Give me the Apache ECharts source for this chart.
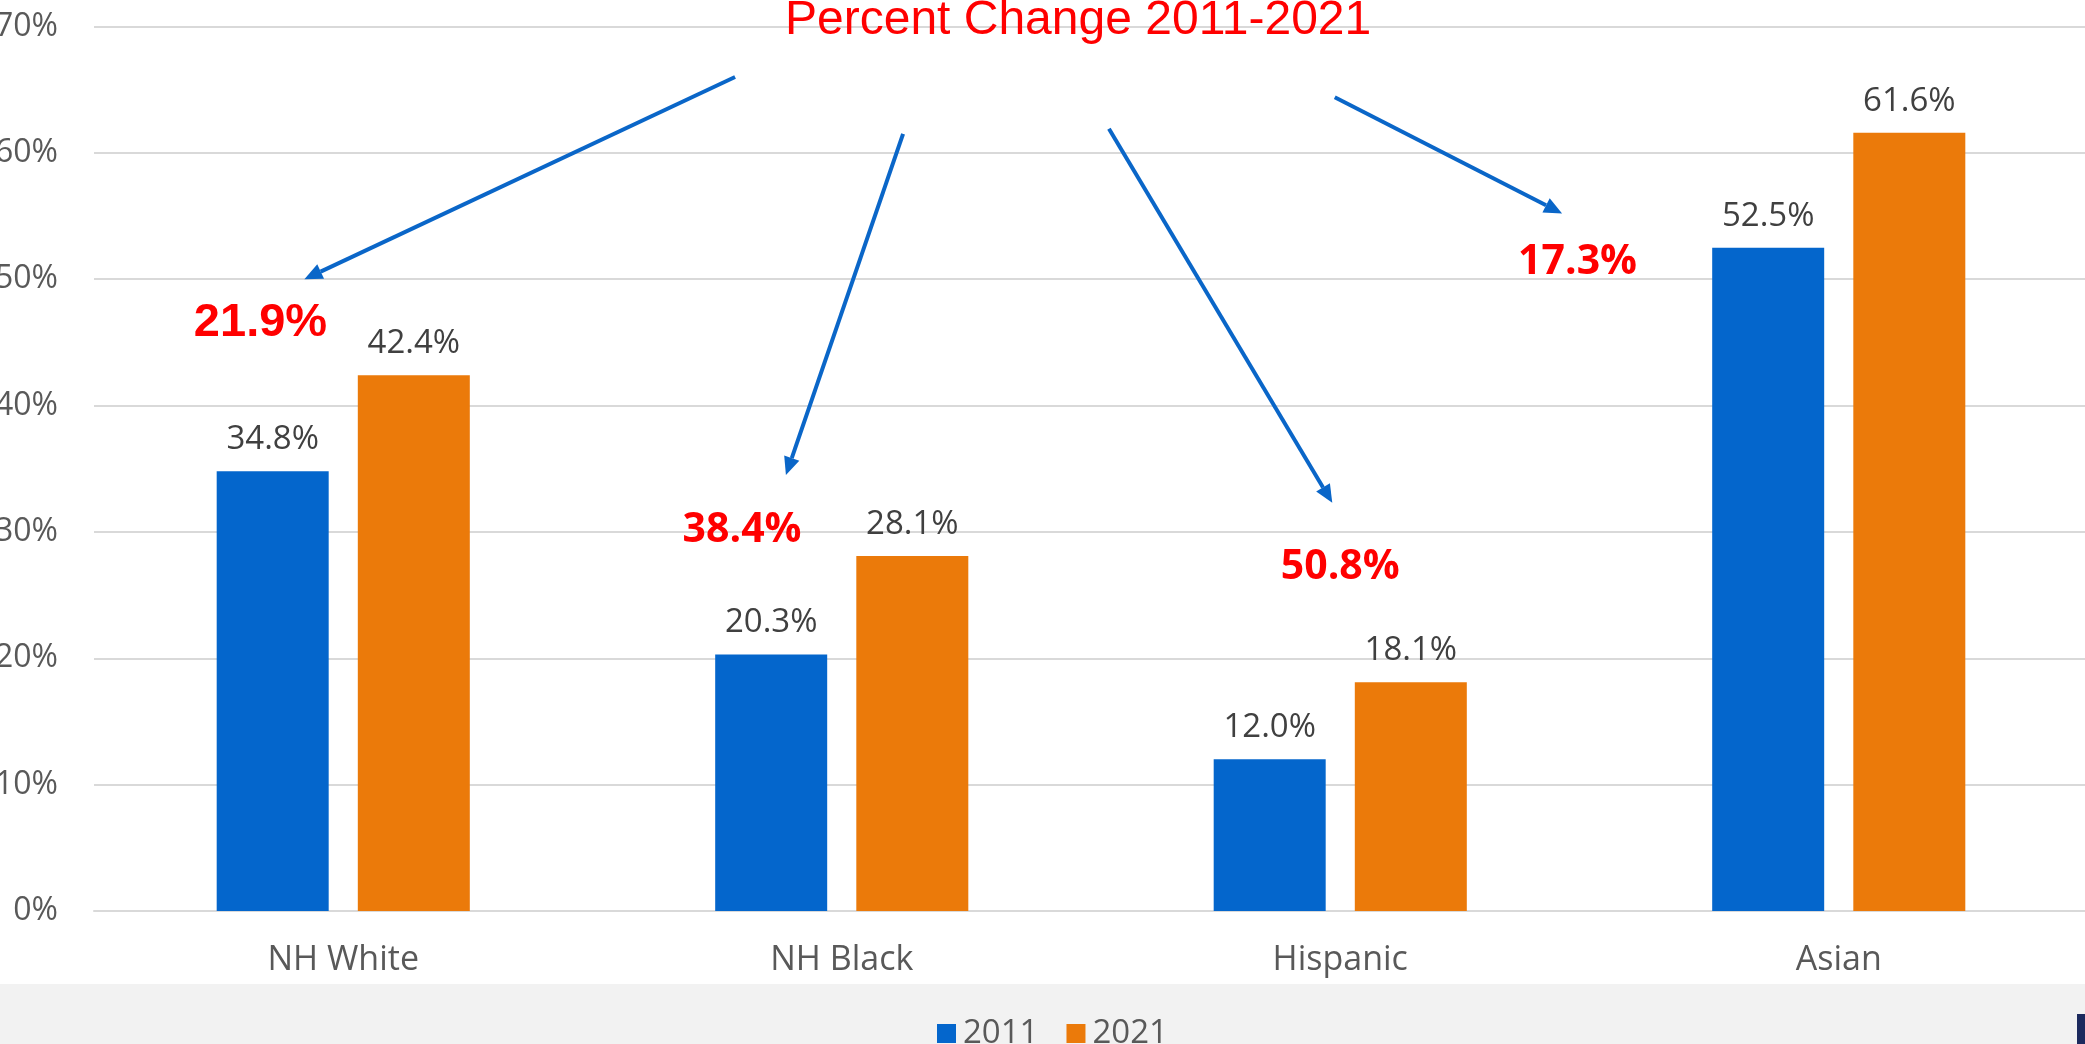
<!DOCTYPE html>
<html>
<head>
<meta charset="utf-8">
<script src="https://cdn.jsdelivr.net/npm/echarts@6/dist/echarts.min.js"></script>
<style>
html, body { margin: 0; padding: 0; background: #fff; }
#chart { width: 2085px; height: 1044px; }
</style>
</head>
<body>
<div id="chart"></div>
<script>
// data
var categories = ['NH White', 'NH Black', 'Hispanic', 'Asian']
var values2011 = [34.8, 20.3, 12.0, 52.5]
var values2021 = [42.4, 28.1, 18.1, 61.6]
var changeLabels = ['21.9%', '38.4%', '50.8%', '17.3%']
var yTicks = { min: 0, max: 70, interval: 10 }

// annotation anchors in axis units: [category position, value]
var changeAnchors = [[-0.166, 46.5], [0.80, 30.1], [2.0, 27.2], [2.476, 51.3]]
// the first label was typed in a different font in the original
var changeFonts = [
  'bold 47px "Liberation Sans"',
  'bold 41px "Open Sans"',
  'bold 41px "Open Sans"',
  'bold 41px "Open Sans"'
]
// arrows: [from cat, from value, to cat, to value]
var arrows = [
  [0.786, 66.0, -0.078, 50.0],
  [1.123, 61.5, 0.888, 34.5],
  [1.536, 61.9, 1.984, 32.3],
  [1.989, 64.4, 2.445, 55.2]
]

var blue = '#0466CC'
var orange = '#EB7A0A'
var arrowBlue = '#0A66C8'

var chart = echarts.init(document.getElementById('chart'))

var option = {
  animation: false,
  title: {
    text: 'Percent Change 2011-2021',
    left: 785,
    top: -3,
    padding: 0,
    textStyle: {
      color: '#FF0000',
      fontFamily: 'Liberation Sans',
      fontWeight: 'normal',
      fontSize: 48
    }
  },
  grid: {
    left: 94,
    right: -3,
    top: 26.5,
    bottom: 133,
    containLabel: false,
    outerBoundsMode: 'none'
  },
  legend: {
    left: 937,
    top: 1017,
    padding: 0,
    icon: 'rect',
    itemWidth: 19,
    itemHeight: 19,
    itemGap: 28,
    textStyle: {
      color: '#595959',
      fontFamily: 'Open Sans',
      fontSize: 33,
      padding: [0, 0, 0, 2]
    },
    data: ['2011', '2021']
  },
  xAxis: {
    type: 'category',
    data: categories,
    axisTick: { show: false },
    axisLine: { lineStyle: { color: '#D9D9D9', width: 2 } },
    axisLabel: {
      color: '#595959',
      fontFamily: 'Open Sans',
      fontSize: 34,
      margin: 32
    }
  },
  yAxis: {
    type: 'value',
    min: yTicks.min,
    max: yTicks.max,
    interval: yTicks.interval,
    axisLine: { show: false },
    axisTick: { show: false },
    splitLine: { lineStyle: { color: '#D9D9D9', width: 2 } },
    axisLabel: {
      color: '#595959',
      fontFamily: 'Open Sans',
      fontSize: 32,
      margin: 36,
      formatter: '{value}%'
    }
  },
  series: [
    {
      name: '2011',
      type: 'bar',
      data: values2011,
      barWidth: 112,
      barGap: '26%',
      itemStyle: { color: blue },
      label: {
        show: true,
        position: 'top',
        distance: 15,
        color: '#404040',
        fontFamily: 'Open Sans',
        fontSize: 33,
        formatter: function(p) { return p.value.toFixed(1) + '%' }
      }
    },
    {
      name: '2021',
      type: 'bar',
      data: values2021,
      barWidth: 112,
      barGap: '26%',
      itemStyle: { color: orange },
      label: {
        show: true,
        position: 'top',
        distance: 15,
        color: '#404040',
        fontFamily: 'Open Sans',
        fontSize: 33,
        formatter: function(p) { return p.value.toFixed(1) + '%' }
      }
    }
  ]
}

chart.setOption(option, true)

// map fractional category positions / values to pixels
function px(cat, val) {
  var x0 = chart.convertToPixel({ xAxisIndex: 0 }, 0)
  var x1 = chart.convertToPixel({ xAxisIndex: 0 }, 1)
  var y = chart.convertToPixel({ yAxisIndex: 0 }, val)
  return [x0 + cat * (x1 - x0), y]
}

var elements = []

// gray footer band
elements.push({
  type: 'rect',
  z: -10,
  shape: { x: 0, y: 984, width: 2085, height: 60 },
  style: { fill: '#F2F2F2' }
})
elements.push({
  type: 'rect',
  z: -9,
  shape: { x: 2077, y: 1014, width: 10, height: 30 },
  style: { fill: '#1C2A5E' }
})

changeLabels.forEach(function(t, i) {
  var p = px(changeAnchors[i][0], changeAnchors[i][1])
  elements.push({
    type: 'text',
    x: p[0],
    y: p[1],
    style: {
      text: t,
      fill: '#FF0000',
      font: changeFonts[i],
      textAlign: 'center',
      textVerticalAlign: 'middle'
    }
  })
})

arrows.forEach(function(a) {
  var s = px(a[0], a[1])
  var e = px(a[2], a[3])
  var dx = e[0] - s[0]
  var dy = e[1] - s[1]
  var len = Math.sqrt(dx * dx + dy * dy)
  var ux = dx / len
  var uy = dy / len
  var headLen = 18
  var headW = 8
  var bx = e[0] - ux * headLen
  var by = e[1] - uy * headLen
  elements.push({
    type: 'line',
    shape: { x1: s[0], y1: s[1], x2: bx, y2: by },
    style: { stroke: arrowBlue, lineWidth: 4 }
  })
  elements.push({
    type: 'polygon',
    shape: {
      points: [
        [e[0], e[1]],
        [bx - uy * headW, by + ux * headW],
        [bx + uy * headW, by - ux * headW]
      ]
    },
    style: { fill: arrowBlue }
  })
})

chart.setOption({ graphic: { elements: elements } })

window.addEventListener('resize', () => {
  chart.resize()
})
</script>
</body>
</html>
